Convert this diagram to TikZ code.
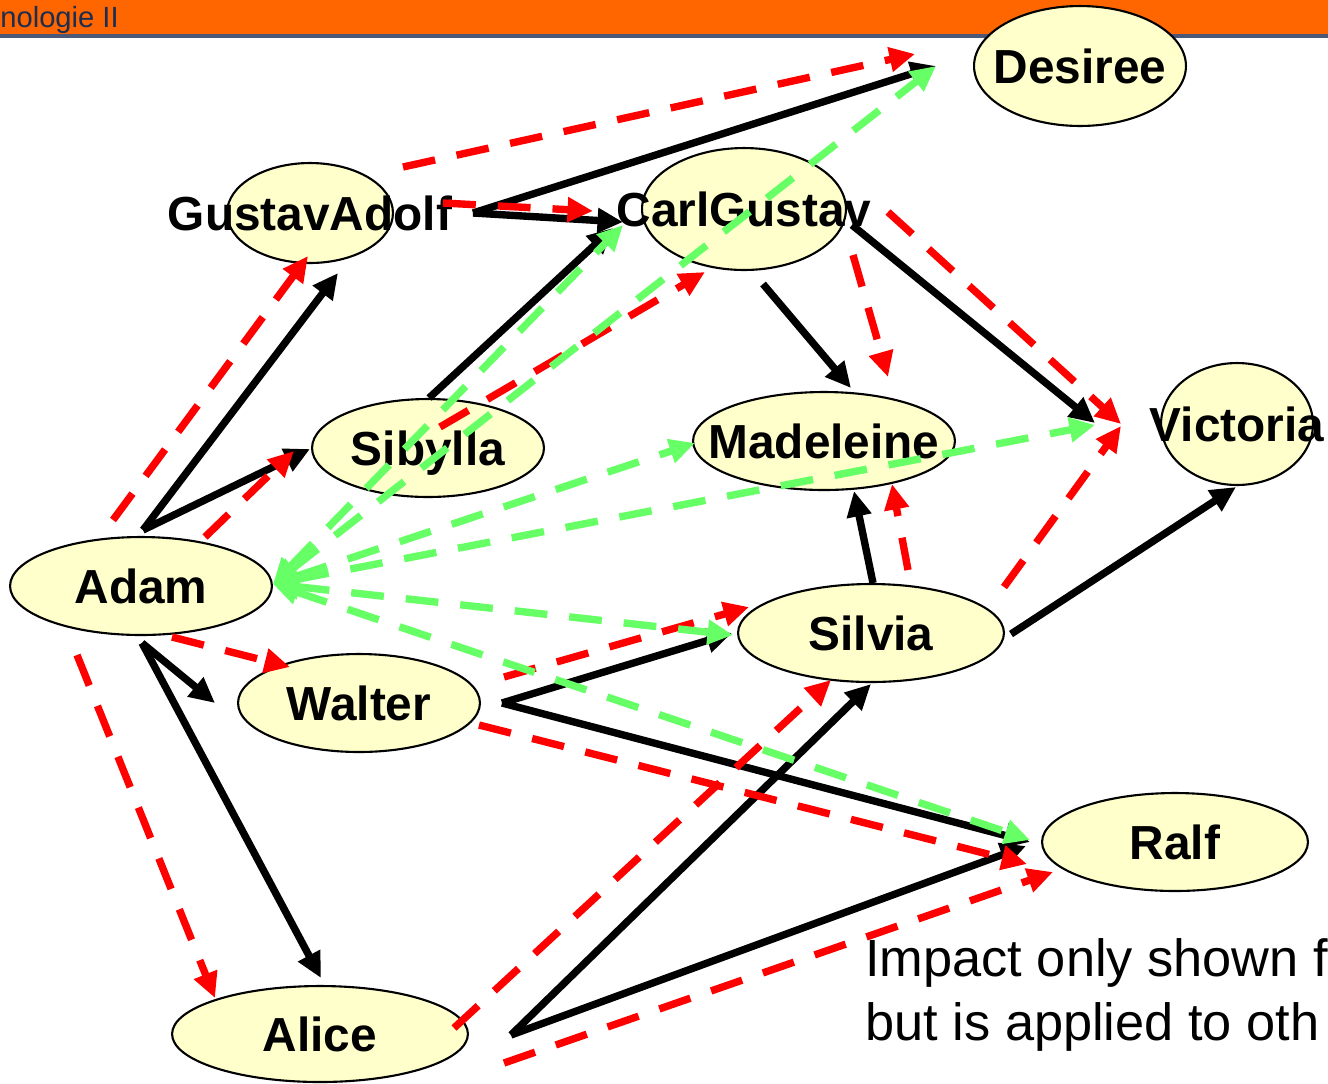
\documentclass[tikz,border=0pt]{standalone}
\usepackage{fontspec}
\setmainfont{Liberation Sans}
\usetikzlibrary{shapes.geometric,arrows.meta}
\definecolor{hdrorange}{HTML}{FF6600}
\definecolor{hdrline}{HTML}{4B5878}
\definecolor{hdrtext}{HTML}{1C2D50}
\definecolor{nodefill}{HTML}{FFFFCC}
\definecolor{implred}{HTML}{FF0000}
\definecolor{implgreen}{HTML}{66FF66}

\begin{document}
\begin{tikzpicture}[x=0.02cm,y=-0.02cm,
  person/.style 2 args={ellipse, draw=black, line width=1.2pt, fill=nodefill,
    inner sep=0pt, minimum width=#1*0.04cm, minimum height=#2*0.04cm},
  pname/.style={font=\fontsize{27.2}{30}\selectfont\bfseries, inner sep=0pt,
    text height=19.4pt, text depth=0pt},
  blk/.style={draw=black, line width=4.2pt, -{Triangle[length=14.5pt,width=13.5pt]}},
  reddash/.style={draw=implred, line width=4.2pt, dash pattern=on 18.7pt off 12.5pt,
    -{Triangle[length=14.5pt,width=13.5pt]}},
  greendash/.style={draw=implgreen, line width=4.2pt, dash pattern=on 18.7pt off 12.5pt,
    {Triangle[length=14.5pt,width=13.5pt]}-{Triangle[length=14.5pt,width=13.5pt]}},
  note/.style={font=\fontsize{29.8}{34}\selectfont, anchor=base west, inner sep=0pt}]

\useasboundingbox (0,0) rectangle (1328,1083);

% title bar
\fill[hdrorange] (0,0) rectangle (1328,34);
\fill[hdrline] (0,34) rectangle (1328,38);
\node[anchor=base west, inner sep=0pt, text=hdrtext,
  font=\fontsize{16.6}{19}\selectfont] (title) at (0,27) {nologie II};

% family members
\node[person={106}{60}, label={[pname]center:Desiree}]     (desiree)   at (1080,66)  {};
\node[person={83}{50},  label={[pname]center:GustavAdolf}] (gustav)    at (310,213)  {};
\node[person={102}{61}, label={[pname]center:CarlGustav}]  (carl)      at (744,209)  {};
\node[person={116}{49}, label={[pname]center:Sibylla}]     (sibylla)   at (428,448)  {};
\node[person={131}{49}, label={[pname]center:Madeleine}]   (madeleine) at (824,441)  {};
\node[person={76}{61},  label={[pname]center:Victoria}]    (victoria)  at (1237,424) {};
\node[person={131}{49}, label={[pname]center:Adam}]        (adam)      at (141,586)  {};
\node[person={121}{49}, label={[pname]center:Walter}]      (walter)    at (359,703)  {};
\node[person={133}{49}, label={[pname]center:Silvia}]      (silvia)    at (871,633)  {};
\node[person={133}{49}, label={[pname]center:Ralf}]        (ralf)      at (1175,842) {};
\node[person={148}{48}, label={[pname]center:Alice}]       (alice)     at (320,1034) {};

% direct relations
\draw[blk] ([shift={(2,-56)}]adam.center)    -- ([shift={(28,60)}]gustav.center);
\draw[blk] ([shift={(2,-56)}]adam.center)    -- ([shift={(-118,1)}]sibylla.center);
\draw[blk] ([shift={(163,0)}]gustav.center)  -- ([shift={(-121,13)}]carl.center);
\draw[blk] ([shift={(163,0)}]gustav.center)  -- ([shift={(-144,0)}]desiree.center);
\draw[blk] ([shift={(1,-50)}]sibylla.center) -- ([shift={(-131,19)}]carl.center);
\draw[blk] ([shift={(19,75)}]carl.center)    -- ([shift={(27,-53)}]madeleine.center);
\draw[blk] ([shift={(108,16)}]carl.center)   -- ([shift={(-142,-1)}]victoria.center);
\draw[blk] ([shift={(2,-50)}]silvia.center)  -- ([shift={(30,50)}]madeleine.center);
\draw[blk] ([shift={(140,1)}]silvia.center)  -- ([shift={(-1,63)}]victoria.center);
\draw[blk] ([shift={(1,57)}]adam.center)     -- ([shift={(-144,0)}]walter.center);
\draw[blk] ([shift={(1,57)}]adam.center)     -- ([shift={(1,-56)}]alice.center);
\draw[blk] ([shift={(143,0)}]walter.center)  -- ([shift={(-139,0)}]silvia.center);
\draw[blk] ([shift={(143,0)}]walter.center)  -- ([shift={(-145,0)}]ralf.center);
\draw[blk] ([shift={(191,1)}]alice.center)   -- ([shift={(0,51)}]silvia.center);
\draw[blk] ([shift={(191,1)}]alice.center)   -- ([shift={(-149,4)}]ralf.center);

% propagated relations
\draw[reddash] ([shift={(-28,-66)}]adam.center)   -- ([shift={(-2,43)}]gustav.center);
\draw[reddash] ([shift={(64,-49)}]adam.center)    -- ([shift={(-134,3)}]sibylla.center);
\draw[reddash] ([shift={(133,-10)}]gustav.center) -- ([shift={(-151,2)}]carl.center);
\draw[reddash] ([shift={(93,-46)}]gustav.center)  -- ([shift={(-165,-12)}]desiree.center);
\draw[reddash] ([shift={(12,-21)}]sibylla.center) -- ([shift={(-39,63)}]carl.center);
\draw[reddash] ([shift={(109,46)}]carl.center)    -- ([shift={(64,-64)}]madeleine.center);
\draw[reddash] ([shift={(144,3)}]carl.center)     -- ([shift={(-116,0)}]victoria.center);
\draw[reddash] ([shift={(37,-63)}]silvia.center)  -- ([shift={(68,43)}]madeleine.center);
\draw[reddash] ([shift={(133,-46)}]silvia.center) -- ([shift={(-116,2)}]victoria.center);
\draw[reddash] ([shift={(31,51)}]adam.center)     -- ([shift={(-69,-36)}]walter.center);
\draw[reddash] ([shift={(-64,69)}]adam.center)    -- ([shift={(-105,-36)}]alice.center);
\draw[reddash] ([shift={(145,-26)}]walter.center) -- ([shift={(-122,-26)}]silvia.center);
\draw[reddash] ([shift={(120,22)}]walter.center)  -- ([shift={(-148,22)}]ralf.center);
\draw[reddash] ([shift={(134,-6)}]alice.center)   -- ([shift={(-40,47)}]silvia.center);
\draw[reddash] ([shift={(184,29)}]alice.center)   -- ([shift={(-122,30)}]ralf.center);

% impact of Adam
\draw[greendash] ([shift={(132,-2)}]adam.center) -- ([shift={(-144,0)}]desiree.center);
\draw[greendash] ([shift={(132,-2)}]adam.center) -- ([shift={(-121,16)}]carl.center);
\draw[greendash] ([shift={(132,-2)}]adam.center) -- ([shift={(-129,2)}]madeleine.center);
\draw[greendash] ([shift={(132,-2)}]adam.center) -- ([shift={(-142,1)}]victoria.center);
\draw[greendash] ([shift={(132,-2)}]adam.center) -- ([shift={(-138,2)}]silvia.center);
\draw[greendash] ([shift={(132,-2)}]adam.center) -- ([shift={(-145,-2)}]ralf.center);

% remark
\node[note] (remark1) at (865,976)  {Impact only shown f};
\node[note] (remark2) at (865,1040) {but is applied to oth};
\end{tikzpicture}
\end{document}
